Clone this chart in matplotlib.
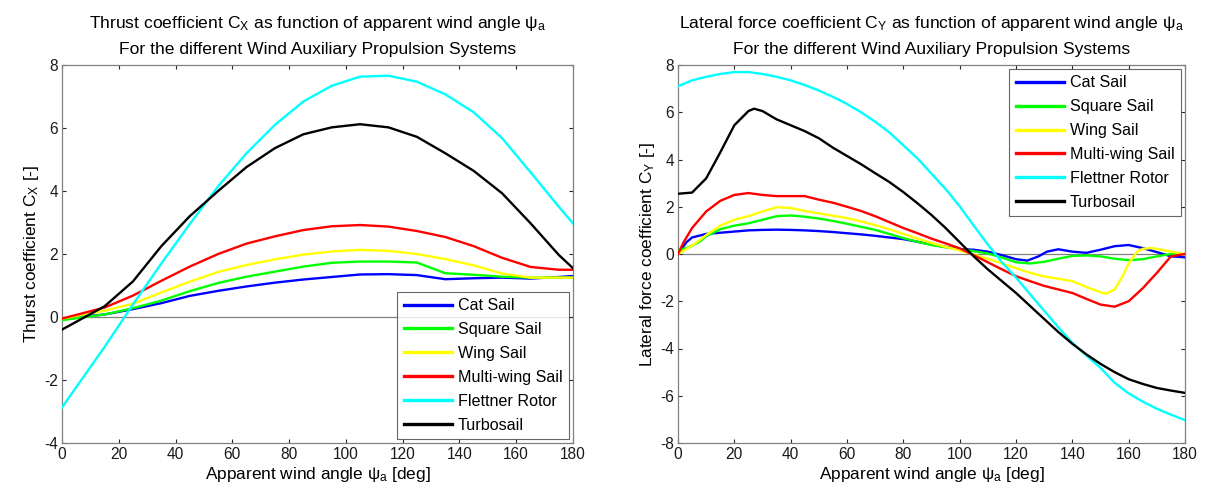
import numpy as np
import matplotlib
matplotlib.use("Agg")
import matplotlib.pyplot as plt

plt.rcParams['font.family'] = ['Liberation Sans', 'DejaVu Sans']
plt.rcParams['mathtext.fontset'] = 'custom'
plt.rcParams['mathtext.rm'] = 'Liberation Sans'
plt.rcParams['mathtext.it'] = 'Liberation Sans'
plt.rcParams['axes.unicode_minus'] = False

series_names = ["Cat Sail", "Square Sail", "Wing Sail", "Multi-wing Sail",
                "Flettner Rotor", "Turbosail"]
series_colors = ["#0000ff", "#00ff00", "#ffff00", "#ff0000", "#00ffff", "#000000"]

# ---- Thrust coefficient C_X ----
cx_angle = [0, 15, 25, 35, 45, 55, 65, 75, 85, 95, 105, 115, 125, 135, 145, 155, 165, 175, 180]
cx_cat = [-0.05, 0.08, 0.25, 0.44, 0.67, 0.83, 0.97, 1.09, 1.19, 1.27, 1.35, 1.36, 1.33, 1.20,
          1.23, 1.25, 1.22, 1.27, 1.30]
cx_square = [-0.10, 0.08, 0.28, 0.52, 0.82, 1.08, 1.28, 1.44, 1.60, 1.72, 1.76, 1.76, 1.73, 1.39,
             1.34, 1.28, 1.25, 1.25, 1.25]
cx_wing = [-0.05, 0.20, 0.42, 0.78, 1.12, 1.43, 1.65, 1.83, 1.98, 2.08, 2.13, 2.10, 2.00, 1.84,
           1.64, 1.38, 1.25, 1.25, 1.25]
cx_multiwing = [-0.05, 0.30, 0.68, 1.15, 1.60, 2.00, 2.33, 2.56, 2.76, 2.88, 2.92, 2.87, 2.73,
                2.54, 2.25, 1.88, 1.59, 1.50, 1.50]
cx_flettner = [-2.87, -0.95, 0.40, 1.70, 2.95, 4.15, 5.20, 6.10, 6.84, 7.34, 7.63, 7.66, 7.47,
               7.07, 6.50, 5.68, 4.60, 3.50, 2.97]
cx_turbo = [-0.40, 0.34, 1.13, 2.25, 3.20, 4.00, 4.76, 5.36, 5.80, 6.02, 6.12, 6.02, 5.72, 5.20,
            4.64, 3.93, 2.98, 1.97, 1.55]

# ---- Lateral force coefficient C_Y ----
cy_cat_angle = [0, 3, 5, 10, 15, 20, 25, 30, 35, 40, 45, 50, 55, 60, 65, 70, 75, 80, 85, 90, 95,
                100, 105, 110, 115, 120, 124, 128, 131, 135, 140, 145, 150, 155, 160, 165, 170,
                175, 180]
cy_cat = [0.0, 0.50, 0.70, 0.85, 0.90, 0.95, 1.00, 1.02, 1.03, 1.02, 1.00, 0.97, 0.93, 0.88,
          0.83, 0.77, 0.70, 0.63, 0.52, 0.40, 0.30, 0.21, 0.18, 0.10, -0.05, -0.22, -0.28, -0.10,
          0.10, 0.20, 0.10, 0.05, 0.18, 0.33, 0.38, 0.25, 0.08, -0.10, -0.14]

cy_square_angle = [0, 3, 5, 8, 10, 15, 20, 25, 30, 35, 40, 45, 50, 55, 60, 65, 70, 75, 80, 85, 90,
                   95, 100, 105, 110, 115, 120, 125, 130, 135, 140, 145, 150, 155, 160, 165, 170,
                   175, 180]
cy_square = [0.15, 0.25, 0.35, 0.55, 0.75, 1.05, 1.20, 1.30, 1.45, 1.60, 1.63, 1.58, 1.50, 1.40,
             1.28, 1.15, 1.02, 0.85, 0.67, 0.52, 0.38, 0.28, 0.20, 0.12, 0.02, -0.15, -0.35,
             -0.40, -0.33, -0.20, -0.08, -0.06, -0.10, -0.20, -0.26, -0.22, -0.10, 0.0, 0.0]

cy_wing_angle = [0, 5, 10, 15, 20, 25, 30, 35, 40, 45, 50, 55, 60, 65, 70, 75, 80, 85, 90, 95, 100,
                 105, 110, 115, 120, 125, 130, 135, 140, 145, 150, 152, 155, 158, 160, 163, 165,
                 168, 170, 175, 180]
cy_wing = [0.0, 0.35, 0.80, 1.20, 1.45, 1.60, 1.80, 1.98, 1.95, 1.82, 1.72, 1.62, 1.52, 1.38,
           1.22, 1.05, 0.85, 0.65, 0.47, 0.30, 0.15, -0.02, -0.20, -0.40, -0.60, -0.80, -0.95,
           -1.05, -1.15, -1.40, -1.62, -1.68, -1.50, -0.90, -0.40, 0.10, 0.22, 0.25, 0.22, 0.10,
           0.0]

cy_multiwing_angle = [0, 2, 5, 10, 15, 20, 25, 30, 35, 40, 45, 50, 55, 60, 65, 70, 75, 80, 85, 90,
                      95, 100, 105, 110, 115, 120, 125, 130, 135, 140, 145, 150, 155, 160, 165,
                      170, 175, 180]
cy_multiwing = [0.0, 0.50, 1.10, 1.80, 2.25, 2.50, 2.58, 2.50, 2.45, 2.45, 2.45, 2.30, 2.17, 2.00,
                1.82, 1.60, 1.35, 1.10, 0.88, 0.65, 0.45, 0.24, -0.05, -0.35, -0.65, -0.94, -1.15,
                -1.35, -1.50, -1.65, -1.90, -2.14, -2.23, -2.00, -1.45, -0.80, -0.10, 0.0]

cy_flettner_angle = list(range(0, 181, 5))
cy_flettner = [7.10, 7.35, 7.50, 7.62, 7.70, 7.70, 7.62, 7.50, 7.35, 7.15, 6.92, 6.65, 6.35, 6.00,
               5.60, 5.15, 4.60, 4.05, 3.40, 2.75, 2.02, 1.20, 0.40, -0.35, -1.00, -1.70, -2.40,
               -3.10, -3.76, -4.30, -4.82, -5.45, -5.90, -6.25, -6.55, -6.80, -7.03]

cy_turbo_angle = [0, 5, 10, 15, 20, 25, 27, 30, 35, 40, 45, 50, 55, 60, 65, 70, 75, 80, 85, 90, 95,
                  100, 105, 110, 115, 120, 125, 130, 135, 140, 145, 150, 155, 160, 165, 170, 175,
                  180]
cy_turbo = [2.55, 2.60, 3.20, 4.30, 5.45, 6.05, 6.15, 6.05, 5.70, 5.45, 5.20, 4.90, 4.50, 4.15,
            3.80, 3.42, 3.05, 2.62, 2.15, 1.65, 1.10, 0.50, -0.10, -0.65, -1.15, -1.65, -2.20,
            -2.75, -3.30, -3.80, -4.25, -4.65, -5.00, -5.30, -5.50, -5.67, -5.78, -5.88]

x_ticks = list(range(0, 181, 20))
cx_ticks = list(range(-4, 9, 2))
cy_ticks = list(range(-8, 9, 2))

fig = plt.figure(figsize=(12.06, 4.92), dpi=100)
ax1 = fig.add_axes([62 / 1206, 1 - 443 / 492, 511 / 1206, 378 / 492])
ax2 = fig.add_axes([678 / 1206, 1 - 443 / 492, 507 / 1206, 378 / 492])

frame_col = "#262626"
label_size = 12.4
title_size = 12.6


def style_axes(ax):
    ax.set_xlim(0, 180)
    ax.set_xticks(x_ticks)
    ax.tick_params(direction="in", length=3, width=0.8, top=True, right=True,
                   labelsize=11.2, colors=frame_col, labelcolor="#1a1a1a", pad=3)
    for sp in ax.spines.values():
        sp.set_color("#808080")
        sp.set_linewidth(0.9)
    ax.axhline(0, color="#808080", lw=0.9, zorder=1)


def add_legend(ax, loc):
    leg = ax.legend(loc=loc, fontsize=11.6, frameon=True, fancybox=False,
                    edgecolor="#404040", handlelength=3.0, handletextpad=0.35,
                    borderaxespad=0.25, labelspacing=0.55, borderpad=0.4)
    leg.get_frame().set_linewidth(0.8)
    for h in leg.get_lines():
        h.set_linewidth(2.4)
    return leg


# left panel
cx_data = [cx_cat, cx_square, cx_wing, cx_multiwing, cx_flettner, cx_turbo]
for name, col, vals in zip(series_names, series_colors, cx_data):
    ax1.plot(cx_angle, vals, color=col, lw=1.7, label=name, zorder=3)
style_axes(ax1)
ax1.set_ylim(-4, 8)
ax1.set_yticks(cx_ticks)
ax1.set_xlabel(r"Apparent wind angle ψ$_{\mathregular{a}}$ [deg]", fontsize=label_size, labelpad=2)
ax1.set_ylabel(r"Thurst coefficient C$_{\mathregular{X}}$ [-]", fontsize=label_size, labelpad=2)
ax1.set_title("Thrust coefficient C$_{\\mathregular{X}}$ as function of apparent wind angle "
              "ψ$_{\\mathregular{a}}$\nFor the different Wind Auxiliary Propulsion Systems",
              fontsize=title_size, linespacing=1.75, pad=8)
add_legend(ax1, "lower right")

# right panel
cy_data = [(cy_cat_angle, cy_cat), (cy_square_angle, cy_square), (cy_wing_angle, cy_wing),
           (cy_multiwing_angle, cy_multiwing), (cy_flettner_angle, cy_flettner),
           (cy_turbo_angle, cy_turbo)]
for name, col, (xs, vals) in zip(series_names, series_colors, cy_data):
    ax2.plot(xs, vals, color=col, lw=1.7, label=name, zorder=3)
style_axes(ax2)
ax2.set_ylim(-8, 8)
ax2.set_yticks(cy_ticks)
ax2.set_xlabel(r"Apparent wind angle ψ$_{\mathregular{a}}$ [deg]", fontsize=label_size, labelpad=2)
ax2.set_ylabel(r"Lateral force coefficient C$_{\mathregular{Y}}$ [-]", fontsize=label_size, labelpad=2)
ax2.set_title("Lateral force coefficient C$_{\\mathregular{Y}}$ as function of apparent wind angle "
              "ψ$_{\\mathregular{a}}$\nFor the different Wind Auxiliary Propulsion Systems",
              fontsize=title_size, linespacing=1.75, pad=8)
add_legend(ax2, "upper right")

fig.savefig("out.png", dpi=100, facecolor="white")
